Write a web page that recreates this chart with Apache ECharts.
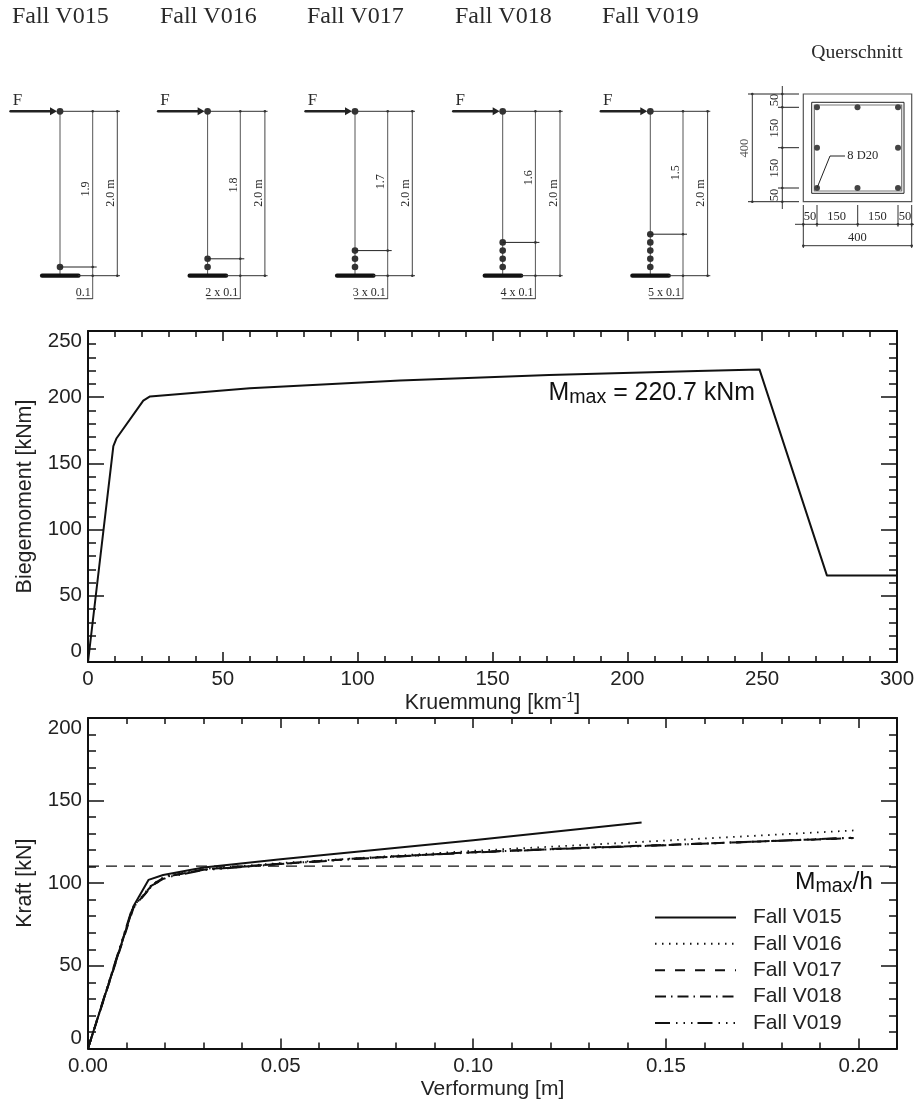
<!DOCTYPE html>
<html><head><meta charset="utf-8">
<style>html,body{margin:0;padding:0;background:#fff}#c{width:914px;height:1102px}</style>
<script src="https://cdn.jsdelivr.net/npm/echarts@6/dist/echarts.min.js"></script>
</head><body><div id="c"></div>
<script>
// ---------- data ----------
const momentCurve = [[0,0],[9.4,163],[10.6,169],[20.5,197.4],[23,200.6],[60,206.7],[115.7,212.7],[171,216.7],[226,219.8],[249,221],[274,65.4],[300,65.4]];
const caseV015 = [[0,0],[0.0118,86],[0.0157,102],[0.0195,105],[0.03,109.5],[0.05,114.5],[0.10,126],[0.1437,136.8]];
const caseV016 = [[0,0],[0.0118,86],[0.0165,99],[0.02,104.2],[0.03,108.6],[0.05,112.2],[0.10,119.6],[0.15,125.8],[0.1993,132]];
const caseV017 = [[0,0],[0.0118,85],[0.017,99.5],[0.02,103.8],[0.03,108.3],[0.05,111.8],[0.07,115],[0.10,118.8],[0.13,121.6],[0.15,123.2],[0.1987,127.3]];
const caseV018 = [[0,0],[0.0116,85],[0.0168,99],[0.0205,104],[0.03,108.2],[0.05,111.7],[0.07,114.9],[0.10,118.7],[0.13,121.5],[0.15,123.1],[0.1987,127.4]];
const caseV019 = [[0,0],[0.0115,85],[0.0165,98.5],[0.0205,103.6],[0.03,108],[0.05,111.6],[0.07,114.8],[0.10,118.6],[0.13,121.4],[0.15,123],[0.1987,127.6]];
const mmaxOverH = 110.35;
const caseNames = ['Fall V015','Fall V016','Fall V017','Fall V018','Fall V019'];
const heightLabels = ['1.9','1.8','1.7','1.6','1.5'];
const spacingLabels = ['0.1','2 x 0.1','3 x 0.1','4 x 0.1','5 x 0.1'];
const hingeCounts = [1,2,3,4,5];

// ---------- helpers for the schematic ----------
const SERIF = '"Liberation Serif","Times New Roman",serif';
const SANS = '"Liberation Sans",Arial,Helvetica,sans-serif';
const g = [];
const line = (x1,y1,x2,y2,c='#333',w=1,cap='butt') => g.push({type:'line',silent:true,shape:{x1,y1,x2,y2},style:{stroke:c,lineWidth:w,lineCap:cap}});
const dot = (x,y,r=1.3,c='#333') => g.push({type:'circle',silent:true,shape:{cx:x,cy:y,r},style:{fill:c}});
const txt = (x,y,t,size,o={}) => g.push({type:'text',silent:true,x,y,rotation:o.rot||0,style:{text:t,fill:o.c||'#2a2a2a',font:`${size}px ${SERIF}`,align:o.align||'center',verticalAlign:'middle'}});
const rect = (x,y,w,h,c,lw) => g.push({type:'rect',silent:true,shape:{x,y,width:w,height:h},style:{fill:'none',stroke:c,lineWidth:lw}});
const R90 = Math.PI/2;

// ---------- column schematics ----------
const headerX = [12,160,307,455,602];
const memberX = [60,207.6,355,502.7,650.3];
const heightLabelY = [189,185,181.7,177.7,172.7];
caseNames.forEach((name,i)=>{
  const X = memberX[i], top = 111.3, base = 275.7;
  txt(headerX[i],16.5,name,24,{align:'left'});
  txt(X-42.5,101,'F',17);
  line(X-49.5,top,X-10,top,'#222',2.4,'round');
  g.push({type:'polygon',silent:true,shape:{points:[[X-10,top-4],[X-10,top+4],[X-3,top]]},style:{fill:'#222'}});
  line(X,top,X+60,top,'#333',1);
  line(X,top,X,base,'#555',1);
  line(X-18,base,X+18.5,base,'#111',4.2,'round');
  line(X+18,base,X+60,base,'#333',1);
  line(X+32.7,top,X+32.7,299,'#555',1);
  line(X+57.3,top,X+57.3,base,'#444',1);
  [[32.7,top],[57.3,top],[32.7,base],[57.3,base]].forEach(p=>dot(X+p[0],p[1]));
  dot(X,top,3.4);
  for(let k=0;k<hingeCounts[i];k++) dot(X,267-k*8.2,3.3);
  const hy = 267-(hingeCounts[i]-1)*8.2;
  line(X,hy,X+36.7,hy,'#222',1);
  dot(X+32.7,hy);
  txt(X+26,heightLabelY[i],heightLabels[i],12,{rot:R90});
  txt(X+51,193,'2.0 m',12,{rot:R90});
  txt(X+30.7,292.7,spacingLabels[i],12,{align:'right'});
  line(i===0?X+16.7:X-1,298.7,X+32.7,298.7,'#333',1);
});

// ---------- cross section ----------
txt(902.7,53.3,'Querschnitt',19.6,{align:'right'});
rect(803.3,94,108.4,107.7,'#555',1.2);
rect(811.7,102.3,92.3,91,'#222',1);
rect(814.3,105,87.4,86,'#777',1.2);
[817,857.5,898].forEach(x=>[107.3,147.7,188].forEach(y=>{ if(!(x===857.5&&y===147.7)) dot(x,y,3,'#444'); }));
line(817,188,830,156,'#222',1); line(830,156,845,156,'#222',1);
txt(847.3,156,'8 D20',12.5,{align:'left'});
line(752.3,94,752.3,201.7,'#333',1);
line(748,94,799,94,'#222',1); line(748,201.7,799,201.7,'#222',1);
line(782.3,86,782.3,209,'#333',1);
[107.3,147.7,188].forEach(y=>line(778,y,799,y,'#222',1));
[[752.3,94],[752.3,201.7],[782.3,94],[782.3,107.3],[782.3,147.7],[782.3,188],[782.3,201.7]].forEach(p=>dot(p[0],p[1]));
txt(745,148,'400',12.5,{rot:R90,c:'#555'});
[[100,'50'],[128,'150'],[168,'150'],[195,'50']].forEach(p=>txt(775,p[0],p[1],12.5,{rot:R90}));
[803.3,817,857.7,898,911.7].forEach(x=>{line(x,205,x,226.7,'#333',1);dot(x,224.3);});
line(795,224.3,914,224.3,'#333',1);
line(803.3,224.3,803.3,248,'#333',1); line(911.7,224.3,911.7,248,'#333',1);
line(803.3,245.7,911.7,245.7,'#333',1);
dot(803.3,245.7); dot(911.7,245.7);
[[810,'50'],[836.7,'150'],[877.3,'150'],[905,'50']].forEach(p=>txt(p[0],216.7,p[1],12.5));
txt(857.3,238,'400',12.5);

// ---------- annotations ----------
const sub = (x,y,body,size) => g.push({type:'text',silent:true,x,y,style:{
  text:`{m|M}{s|max}{m|${body}}`,align:'left',verticalAlign:'middle',
  rich:{m:{fontFamily:SANS,fontSize:size,fill:'#111',lineHeight:30},s:{fontFamily:SANS,fontSize:19.6,fill:'#111',padding:[9,0,0,0]}}}});
sub(548.5,393,' = 220.7 kNm',24.9);
sub(795,882,'/h',24.6);

// ---------- axes: grids 0,1 carry the long ticks, grids 2,3 overlay the short ticks ----------
const TICK_FONT = {fontFamily:SANS,fontSize:20.5,color:'#222'};
const tick = (length) => ({inside:true,length,lineStyle:{color:'#111',width:1.5}});
const xAxes = [], yAxes = [];
const base = (gridIndex,min,max) => ({type:'value',gridIndex,min,max,splitLine:{show:false},axisLine:{onZero:false,lineStyle:{color:'#111',width:2}}});
function addX(grid,min,max,major,fmt,name,gap,size){
  xAxes.push({...base(grid,min,max),position:'bottom',interval:major,axisTick:tick(10),
    axisLabel:{...TICK_FONT,margin:7,formatter:fmt,hideOverlap:false},
    name,nameLocation:'middle',nameGap:gap,
    nameTextStyle:{fontFamily:SANS,fontSize:size,color:'#222',rich:{a:{fontFamily:SANS,fontSize:size,color:'#222',lineHeight:26},sup:{fontFamily:SANS,fontSize:14,color:'#222',padding:[0,0,9,0]}}}});
  xAxes.push({...base(grid,min,max),position:'top',interval:major,axisLabel:{show:false},axisTick:tick(10)});
}
function addXMinor(grid,min,max,minor){
  ['bottom','top'].forEach(position=>xAxes.push({...base(grid,min,max),position,interval:minor,axisLine:{show:false,onZero:false},axisLabel:{show:false},axisTick:tick(6)}));
}
function addY(grid,min,max,major,name){
  yAxes.push({...base(grid,min,max),position:'left',interval:major,axisTick:tick(16),
    axisLabel:{...TICK_FONT,margin:6,verticalAlignMinLabel:'bottom',verticalAlignMaxLabel:'top'},
    name,nameLocation:'middle',nameGap:52,nameTextStyle:{fontFamily:SANS,fontSize:21.4,color:'#222'}});
  yAxes.push({...base(grid,min,max),position:'right',interval:major,axisLabel:{show:false},axisTick:tick(16)});
}
function addYMinor(grid,min,max,minor){
  ['left','right'].forEach(position=>yAxes.push({...base(grid,min,max),position,interval:minor,axisLine:{show:false,onZero:false},axisLabel:{show:false},axisTick:tick(8)}));
}
addX(0,0,300,50,v=>String(v),'{a|Kruemmung [km}{sup|-1}{a|]}',28,21.4);
addX(1,0,0.21,0.05,v=>v>0.205?'':v.toFixed(2),'Verformung [m]',30,21);
addXMinor(2,0,300,10);
addXMinor(3,0,0.21,0.01);
addY(0,0,250,50,'Biegemoment [kNm]');
addY(1,0,200,50,'Kraft [kN]');
addYMinor(2,0,250,10);
addYMinor(3,0,200,10);

const mk = (name,data,dash,w=2) => ({name,type:'line',xAxisIndex:2,yAxisIndex:2,data,symbol:'none',showSymbol:false,silent:true,
  lineStyle:{color:'#111',width:w,type:dash,cap:'butt',join:'round'}});

const R1 = {left:88,top:331,width:809,height:331,outerBoundsMode:'none'};
const R2 = {left:88,top:718,width:809,height:330.4,outerBoundsMode:'none'};
const chart = echarts.init(document.getElementById('c'),null,{renderer:'canvas'});
chart.setOption({
  animation:false,backgroundColor:'#fff',
  grid:[R1,R2,R1,R2],
  xAxis:xAxes,yAxis:yAxes,
  legend:{show:true,left:649,top:902,orient:'vertical',itemWidth:81,itemHeight:14,itemGap:5.35,selectedMode:false,
    itemStyle:{opacity:0},
    data:caseNames,textStyle:{fontFamily:SANS,fontSize:21,color:'#222',padding:[0,0,0,12],lineHeight:21}},
  series:[
    {name:'Moment',type:'line',xAxisIndex:0,yAxisIndex:0,data:momentCurve,symbol:'none',silent:true,lineStyle:{color:'#111',width:2,join:'round'}},
    mk('Mmax/h',[[0,mmaxOverH],[0.21,mmaxOverH]],[11,7],1.2),
    mk(caseNames[0],caseV015,'solid'),
    mk(caseNames[1],caseV016,[1.5,5.5],1.8),
    mk(caseNames[2],caseV017,[10,10]),
    mk(caseNames[3],caseV018,[11,5,1.5,5]),
    mk(caseNames[4],caseV019,[15,6,1.5,6,1.5,6,1.5,5])
  ],
  graphic:{elements:g}
});
</script></body></html>
